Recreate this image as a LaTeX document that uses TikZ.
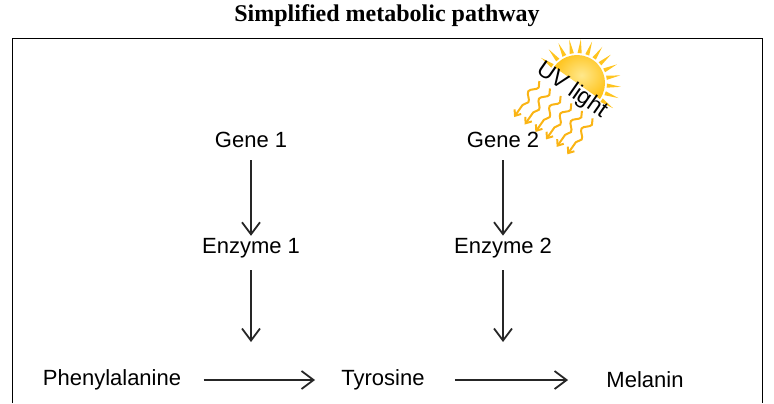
\documentclass[tikz,border=0pt]{standalone}
\usepackage{fontspec}
\setmainfont{Liberation Sans}
\newfontfamily\titlefont{Liberation Serif}
\usetikzlibrary{arrows.meta,positioning,decorations.pathmorphing}
\definecolor{sunyellow}{RGB}{255,196,30}
\definecolor{sunlight}{RGB}{255,232,140}
\definecolor{raygold}{RGB}{250,180,20}
\begin{document}
\begin{tikzpicture}[
    x=0.5pt, y=-0.5pt,
    label/.style={font=\fontsize{11}{13}\selectfont, inner sep=1pt},
    arrow/.style={-{Straight Barb[length=6pt,width=9pt]}, line width=0.9pt, draw=black!85},
    uvray/.style={raygold, line width=1pt, -{Straight Barb[length=2.5pt,width=4pt]},
        decorate, decoration={snake, amplitude=1.6pt, segment length=9pt, post length=4pt}}
]
\useasboundingbox (0,0) rectangle (774,403);

% frame and title
\draw[line width=0.5pt] (12,403) -- (12,38) -- (762,38) -- (762,403);
\node[font=\titlefont\bfseries\fontsize{12}{14}\selectfont] (title) at (387,16) {Simplified metabolic pathway};

% genes and enzymes
\node[label] (gene1) at (251,140) {Gene 1};
\node[label] (enz1) at (251,248) {Enzyme 1};
\node[label] (gene2) at (503,140) {Gene 2};
\node[label] (enz2) at (503,248) {Enzyme 2};

% pathway
\node[label] (phe) at (112,380) {Phenylalanine};
\node[label] (tyr) at (383,380) {Tyrosine};
\node[label] (mel) at (645,380) {Melanin};
\coordinate (step1) at (251,342);
\coordinate (step2) at (503,342);

% arrows
\draw[arrow, shorten <=5pt] (gene1) -- (enz1);
\draw[arrow, shorten <=5pt] (gene2) -- (enz2);
\draw[arrow, shorten <=5pt] (enz1) -- (step1);
\draw[arrow, shorten <=5pt] (enz2) -- (step2);
\draw[arrow, shorten <=10pt, shorten >=12pt] (phe) -- (tyr);
\draw[arrow, shorten <=14pt, shorten >=18pt] (tyr) -- (mel);

% sun
\begin{scope}[shift={(577,83)}, x=0.5pt, y=0.5pt, rotate=-35]
  \foreach \a in {0,15,...,180}
    \fill[sunyellow] (\a-4:30) -- (\a:44) -- (\a+4:30) -- cycle;
  \shade[inner color=sunlight, outer color=sunyellow] (-28,0) arc (180:0:28) -- cycle;
  \foreach \x in {-32,-19,-6,7,20,33}
    \draw[uvray] (\x,-20) -- (\x,-64);
  \node[font=\fontsize{11.5}{13}\selectfont, transform shape] (uv) at (0,-9) {UV light};
\end{scope}
\end{tikzpicture}
\end{document}
